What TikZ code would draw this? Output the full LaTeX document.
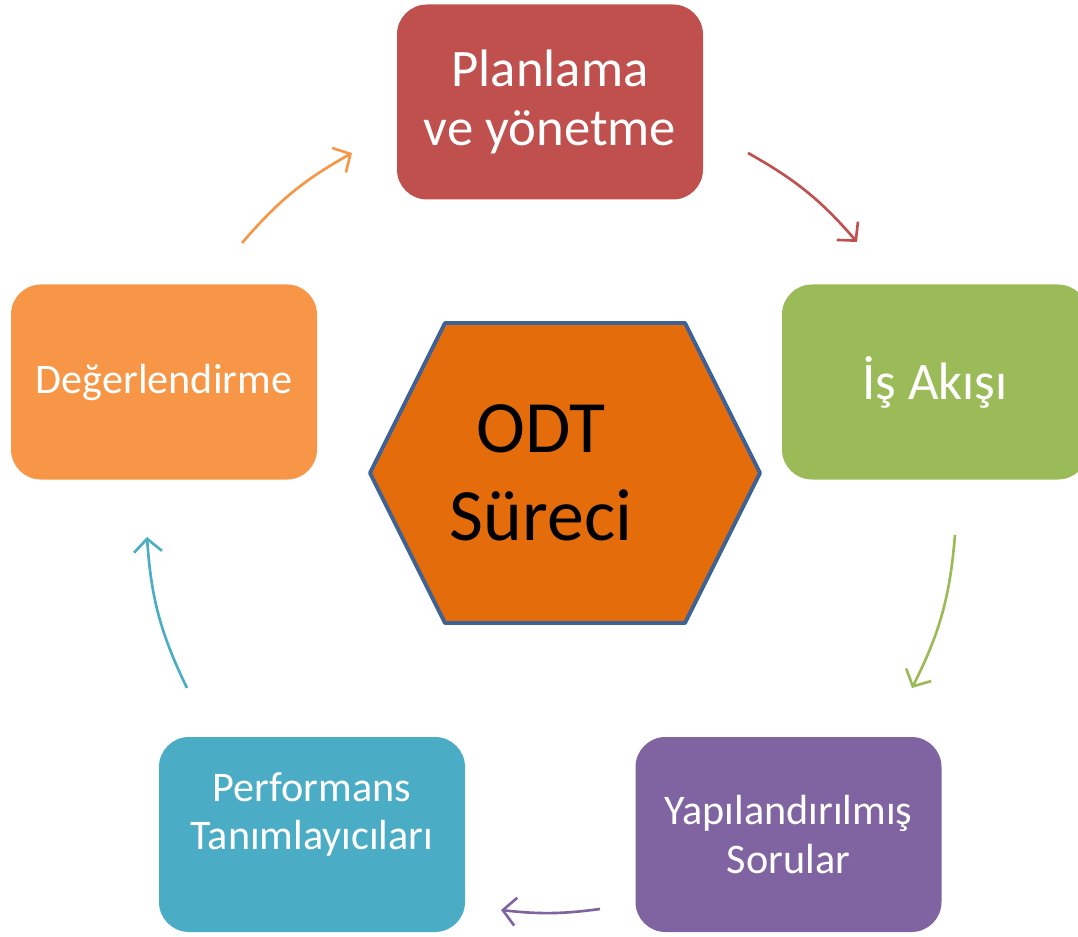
\documentclass[tikz,border=0pt]{standalone}
\usepackage{fontspec}
\setmainfont{Carlito}
\usetikzlibrary{arrows.meta}
\definecolor{planred}{HTML}{C0504D}
\definecolor{flowgreen}{HTML}{9BBB59}
\definecolor{askpurple}{HTML}{8064A2}
\definecolor{perfblue}{HTML}{4BACC6}
\definecolor{evalorange}{HTML}{F79646}
\definecolor{hexfill}{HTML}{E46C0A}
\definecolor{hexline}{HTML}{3F6296}
\tikzset{
  stage/.style={rounded corners=0.6cm,minimum width=6.12cm,minimum height=3.9cm,
    text=white,align=center,inner sep=2pt},
  cyc/.style={line width=1.5pt,-{Straight Barb[length=2.6mm,width=5.6mm]}},
}
\begin{document}
\begin{tikzpicture}
\useasboundingbox (0,0) rectangle (21.56,-18.74);
% stages
\node[stage,fill=planred,font=\fontsize{30}{34}\selectfont] (plan) at (11.0,-2.04) {Planlama\\ve yönetme};
\node[stage,fill=flowgreen,font=\fontsize{30}{34}\selectfont] (akis) at (18.7,-7.64) {İş Akışı};
\node[stage,fill=askpurple,font=\fontsize{24}{28}\selectfont] (soru) at (15.77,-16.69) {Yapılandırılmış\\Sorular};
\node[stage,fill=perfblue] (perf) at (6.24,-16.69) {};
\node[text=white,align=center,font=\fontsize{24}{27}\selectfont] (perftxt) at ([yshift=0.4cm]perf.center) {Performans\\Tanımlayıcıları};
\node[stage,fill=evalorange,font=\fontsize{24}{28}\selectfont] (deg) at (3.28,-7.64) {Değerlendirme};
% center hexagon
\draw[fill=hexfill,draw=hexline,line width=2.2pt,line join=round]
  (8.9,-6.46)--(13.7,-6.46)--(15.2,-9.46)--(13.7,-12.46)--(8.9,-12.46)--(7.4,-9.46)--cycle;
\node[font=\fontsize{42}{50}\selectfont,align=center] (odt) at (10.82,-9.46) {ODT\\Süreci};
% arrow ends
\coordinate (r1) at (14.96,-3.06); \coordinate (r2) at (17.14,-4.84);
\coordinate (g1) at (19.1,-10.7);  \coordinate (g2) at (18.24,-13.76);
\coordinate (p1) at (12.0,-18.18); \coordinate (p2) at (10.02,-18.2);
\coordinate (b1) at (3.74,-13.76); \coordinate (b2) at (2.94,-10.74);
\coordinate (o1) at (4.84,-4.86);  \coordinate (o2) at (7.04,-3.06);
\draw[cyc,planred] (r1) to[bend left=10] (r2);
\draw[cyc,flowgreen] (g1) to[bend left=11] (g2);
\draw[cyc,askpurple] (p1) to[bend left=7] (p2);
\draw[cyc,perfblue] (b1) to[bend left=11] (b2);
\draw[cyc,evalorange] (o1) to[bend left=10] (o2);
\end{tikzpicture}
\end{document}
